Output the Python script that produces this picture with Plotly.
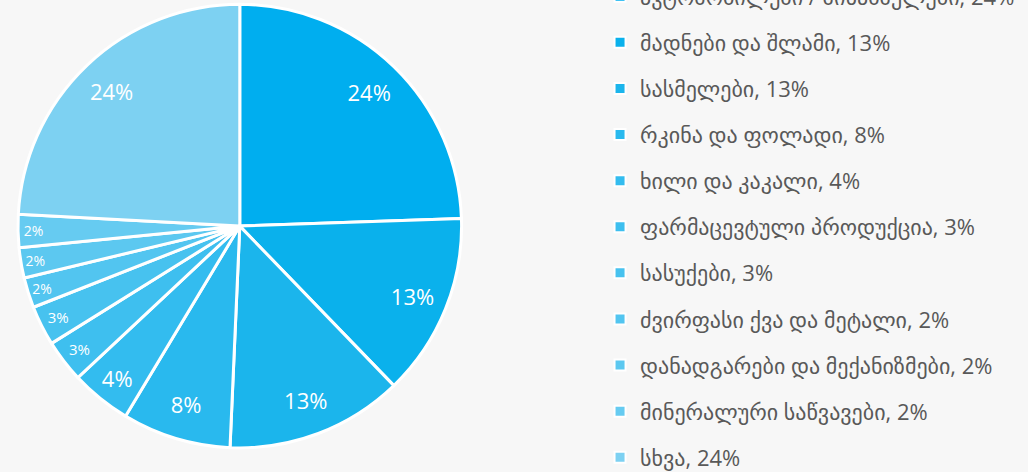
import plotly.graph_objects as go

categories = [
    "ავტომობილები / მისაბმელები",
    "მადნები და შლამი",
    "სასმელები",
    "რკინა და ფოლადი",
    "ხილი და კაკალი",
    "ფარმაცევტული პროდუქცია",
    "სასუქები",
    "ძვირფასი ქვა და მეტალი",
    "დანადგარები და მექანიზმები",
    "მინერალური საწვავები",
    "სხვა",
]
shares = [24.4, 13.3, 12.9, 7.9, 4.4, 3.1, 2.9, 2.2, 2.2, 2.4, 24.1]
colors = ["#00AEEF", "#0AB1EC", "#1BB5EC", "#29B9EE", "#33BCEF", "#3EBFEF",
          "#47C2EF", "#52C5F0", "#5CC8F0", "#66CBF1", "#7DD1F2"]
label_sizes = [22, 22, 22, 22, 22, 15, 15, 14, 14, 14, 22]

pie_domain = dict(x=[0.0175, 0.449], y=[0.05, 0.992])

fig = go.Figure()
# slices
fig.add_trace(go.Pie(
    labels=categories,
    values=shares,
    sort=False,
    direction="clockwise",
    rotation=0,
    marker=dict(colors=colors, line=dict(color="white", width=3)),
    textinfo="none",
    hoverinfo="label+percent",
    showlegend=False,
    domain=pie_domain,
))
# percentage labels placed in an outer ring (transparent overlay)
fig.add_trace(go.Pie(
    labels=categories,
    values=shares,
    sort=False,
    direction="clockwise",
    rotation=0,
    hole=0.68,
    marker=dict(colors=["rgba(0,0,0,0)"] * len(shares), line=dict(width=0)),
    texttemplate="%{value:.0f}%",
    textposition="inside",
    insidetextorientation="horizontal",
    textfont=dict(color="white", size=label_sizes, family="Open Sans, DejaVu Sans"),
    hoverinfo="skip",
    showlegend=False,
    domain=pie_domain,
))

for name, val, col in zip(categories, shares, colors):
    fig.add_trace(go.Scatter(
        x=[None], y=[None], mode="markers",
        name=f"{name}, {round(val)}%",
        legendgroup=name,
        marker=dict(symbol="square", size=11, color=col, line=dict(color="white", width=2)),
    ))

fig.update_layout(
    width=1028, height=472,
    margin=dict(l=0, r=0, t=0, b=0, autoexpand=False),
    paper_bgcolor="#F7F7F7",
    plot_bgcolor="#F7F7F7",
    xaxis=dict(visible=False),
    yaxis=dict(visible=False),
    legend=dict(
        x=0.5837, xanchor="left",
        y=1.052, yanchor="top",
        traceorder="grouped",
        tracegroupgap=14.5,
        maxheight=700,
        font=dict(size=22, color="#595959", family="Open Sans, DejaVu Sans"),
        bgcolor="rgba(0,0,0,0)",
    ),
)

fig.write_html("out.html", config={"displayModeBar": False},
               post_script="document.body.style.margin='0';")
